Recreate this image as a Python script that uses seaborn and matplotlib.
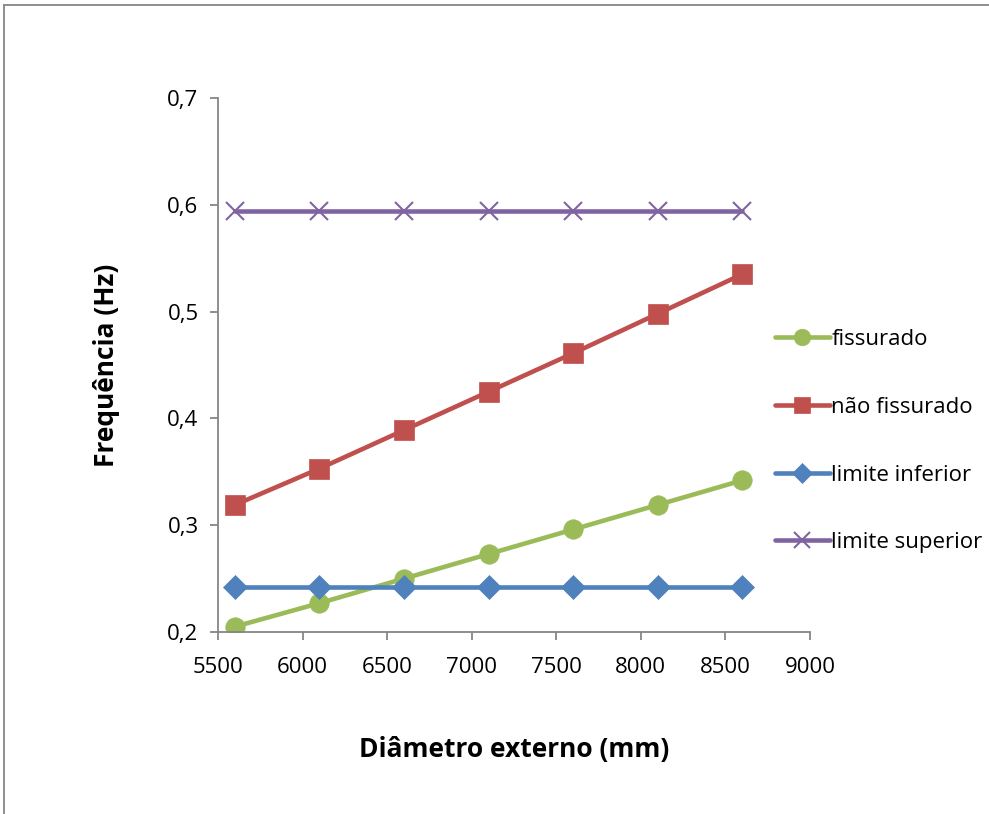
import matplotlib
matplotlib.use("Agg")
import matplotlib.pyplot as plt
import matplotlib.lines as mlines
import seaborn as sns
import pandas as pd

# Outer diameter (mm)
diametro = [5600, 6100, 6600, 7100, 7600, 8100, 8600]

# Natural frequency (Hz) for each case
fissurado = [0.205, 0.227, 0.250, 0.273, 0.296, 0.319, 0.342]
nao_fissurado = [0.319, 0.353, 0.389, 0.425, 0.461, 0.498, 0.535]
limite_inferior = [0.242] * 7
limite_superior = [0.594] * 7

series_names = ["fissurado", "não fissurado", "limite inferior", "limite superior"]
series_values = [fissurado, nao_fissurado, limite_inferior, limite_superior]
series_colors = ["#9BBB59", "#C0504D", "#4F81BD", "#8064A2"]
series_markers = ["o", "s", "D", "x"]
series_msizes = [14, 14, 12, 13]

x_ticks = [5500, 6000, 6500, 7000, 7500, 8000, 8500, 9000]
y_ticks = [0.2, 0.3, 0.4, 0.5, 0.6, 0.7]
y_ticklabels = ["0,2", "0,3", "0,4", "0,5", "0,6", "0,7"]

sns.set_style("white")
plt.rcParams["font.family"] = ["Open Sans", "DejaVu Sans"]
plt.rcParams["text.color"] = "black"
plt.rcParams["axes.labelcolor"] = "black"

fig = plt.figure(figsize=(9.89, 8.14), dpi=100)
ax = fig.add_axes([0.2204, 0.2236, 0.5986, 0.656])

df = pd.DataFrame({"Diâmetro": diametro})
handles = []
for name, vals, col, mk, ms in zip(series_names, series_values, series_colors,
                                   series_markers, series_msizes):
    df[name] = vals
    sns.lineplot(data=df, x="Diâmetro", y=name, ax=ax, color=col, linewidth=3.3,
                 marker=mk, markersize=ms, markeredgecolor=col,
                 markeredgewidth=1.5 if mk == "x" else 0.5, legend=False)
    handles.append(mlines.Line2D([], [], color=col, linewidth=3.3, marker=mk,
                                 markersize=ms * 0.85, markeredgecolor=col,
                                 markeredgewidth=1.5 if mk == "x" else 0.5,
                                 label=name))

ax.set_xlim(5500, 9000)
ax.set_ylim(0.2, 0.7)
ax.set_xticks(x_ticks)
ax.set_xticklabels([str(t) for t in x_ticks], fontsize=16)
ax.set_yticks(y_ticks)
ax.set_yticklabels(y_ticklabels, fontsize=16)

for side in ["top", "right"]:
    ax.spines[side].set_visible(False)
for side in ["left", "bottom"]:
    ax.spines[side].set_color("#868686")
    ax.spines[side].set_linewidth(1.3)
ax.tick_params(axis="both", which="major", direction="out", length=6, width=1.3,
               color="#868686", labelcolor="black", pad=8,
               left=True, bottom=True)
ax.tick_params(axis="x", pad=12)

ax.set_xlabel("Diâmetro externo (mm)", fontsize=19, fontweight="bold", labelpad=42)
ax.set_ylabel("Frequência (Hz)", fontsize=19, fontweight="bold", labelpad=34)

fig.legend(handles=handles, loc="center left", bbox_to_anchor=(0.772, 0.458),
           frameon=False, fontsize=16, handlelength=2.5, handletextpad=0.05,
           labelspacing=2.1, borderpad=0)

# Outer chart frame (top and left edges)
fig.add_artist(mlines.Line2D([0.004, 1.0], [0.9935, 0.9935], transform=fig.transFigure,
                             color="#868686", linewidth=1.3))
fig.add_artist(mlines.Line2D([0.004, 0.004], [0.0, 0.9935], transform=fig.transFigure,
                             color="#868686", linewidth=1.3))

fig.savefig("out.png", dpi=100)
